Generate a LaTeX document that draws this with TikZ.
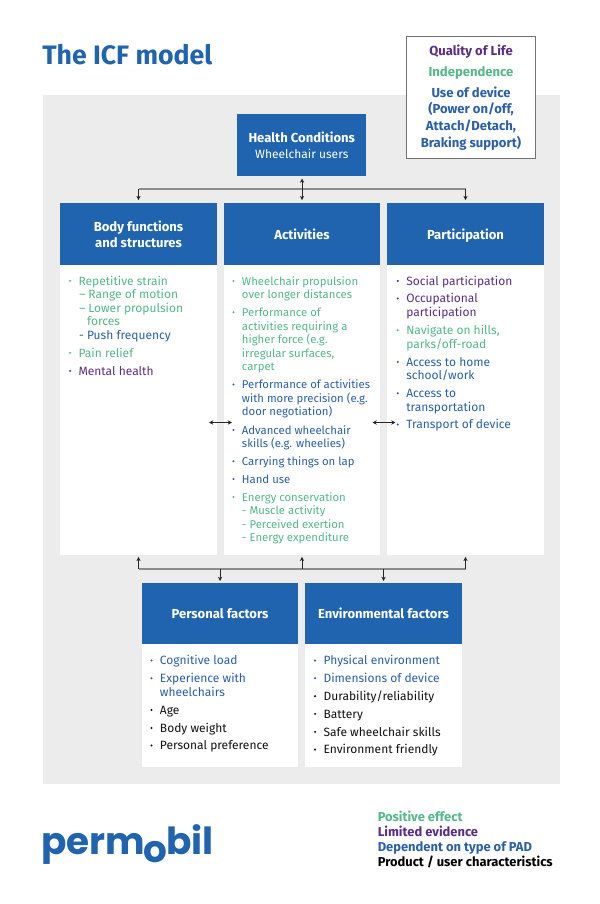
\documentclass[tikz,border=0pt]{standalone}
\usepackage{fontspec}
\setmainfont{Fira Sans}
\newfontfamily\logofont{Poppins}
\usetikzlibrary{arrows.meta}
\definecolor{hdr}{HTML}{2063AF}
\definecolor{panelbg}{HTML}{ECECEC}
\definecolor{cgreen}{HTML}{55B888}
\definecolor{cpurple}{HTML}{5B2D86}
\definecolor{cblue}{HTML}{2B5FA8}
\definecolor{cblack}{HTML}{111111}
\newcommand{\itemfont}{\fontsize{9}{10.2}\selectfont\lineskiplimit=-100pt\relax}
\newcommand{\tightfont}{\fontsize{8.5}{10.2}\selectfont\lineskiplimit=-100pt\relax}
\newcommand{\hdrfont}{\fontsize{9.8}{11.5}\selectfont\bfseries\lineskiplimit=-100pt\relax}
\newcommand{\keyfont}{\fontsize{9.8}{12.6}\selectfont\bfseries\lineskiplimit=-100pt\relax}
\tikzset{
  header/.style={fill=hdr,text=white,font=\hdrfont,align=center,inner sep=0pt,anchor=north west},
  panelbox/.style={fill=white,inner sep=0pt,anchor=north west},
  itemtext/.style={font=\itemfont,align=left,inner sep=0pt,anchor=north west},
  legendtext/.style={font=\fontsize{9.7}{11}\selectfont\bfseries,inner sep=0pt,anchor=west,text height=7pt,text depth=2pt},
  keytext/.style={font=\keyfont,inner sep=0pt,align=center},
  logotext/.style={font=\logofont\bfseries\fontsize{28}{28}\selectfont,text=hdr,inner sep=0pt,anchor=base west},
  bar/.style={draw=black!45,line width=0.9pt},
  arrow/.style={draw=black!85,line width=0.5pt,-{Stealth[length=3.2pt,width=3.2pt]}},
  biarrow/.style={draw=black!85,line width=0.5pt,{Stealth[length=3.2pt,width=3.2pt]}-{Stealth[length=3.2pt,width=3.2pt]}}
}
% \itm{name}{colour}{text x}{first line centre y}{text}
\newcommand{\itm}[5]{%
  \fill[#2] (#3-8.2,#4+0.2) circle (1.15);
  \node[itemtext,text=#2] (#1) at (#3,#4+4.2-9.5) {\strut #5};}
\newcommand{\itmt}[5]{%
  \fill[#2] (#3-8.2,#4+0.2) circle (1.15);
  \node[itemtext,font=\tightfont,text=#2] (#1) at (#3,#4+4.2-9.5) {\strut #5};}
\newcommand{\sub}[5]{%
  \node[itemtext,text=#2] (#1) at (#3,#4+4.2-9.5) {\strut #5};}
\begin{document}
\begin{tikzpicture}[x=0.75pt,y=-0.75pt]
\useasboundingbox (0,0) rectangle (600,904);
\fill[white] (0,0) rectangle (600,904);
\fill[panelbg] (43,95) rectangle (560,784);

\node[anchor=west,inner sep=0pt,text=hdr,font=\fontsize{20}{22}\selectfont\bfseries] (title) at (42,55) {The ICF model};

% key box
\node[draw=black!55,fill=white,line width=0.6pt,minimum width=129*0.75pt,minimum height=122*0.75pt,inner sep=0pt,anchor=north west] (key) at (406.2,35.5) {};
\node[keytext,text=cpurple] (k1) at (471,51.5) {Quality of Life};
\node[keytext,text=cgreen] (k2) at (471,72.5) {Independence};
\node[keytext,text=cblue] (k3) at (471,118.5) {Use of device\\(Power on/off,\\Attach/Detach,\\Braking support)};

% headers
\node[header,minimum width=129*0.75pt,minimum height=62*0.75pt] (health) at (237,114) {Health Conditions\\\fontsize{9}{11.5}\selectfont\mdseries Wheelchair users};
\node[panelbox,minimum width=156.5*0.75pt,minimum height=290*0.75pt] (bfbody) at (60,265) {};
\node[panelbox,minimum width=156.5*0.75pt,minimum height=290*0.75pt] (acbody) at (223.5,265) {};
\node[panelbox,minimum width=156.5*0.75pt,minimum height=290*0.75pt] (pabody) at (387,265) {};
\node[header,minimum width=156.5*0.75pt,minimum height=62*0.75pt] (bf) at (60,203) {Body functions\\and structures};
\node[header,minimum width=156.5*0.75pt,minimum height=62*0.75pt] (ac) at (223.5,203) {Activities};
\node[header,minimum width=156.5*0.75pt,minimum height=62*0.75pt,text depth=0pt] (pa) at (387,203) {Participation};
\node[panelbox,minimum width=156.5*0.75pt,minimum height=123*0.75pt] (pfbody) at (141.5,644) {};
\node[panelbox,minimum width=156.5*0.75pt,minimum height=123*0.75pt] (efbody) at (305,644) {};
\node[header,minimum width=156.5*0.75pt,minimum height=61*0.75pt] (pf) at (141.5,583) {Personal factors};
\node[header,minimum width=156.5*0.75pt,minimum height=61*0.75pt] (ef) at (305,583) {Environmental factors};

% top connectors
\coordinate (topbar) at (301.7,189);
\draw[bar] (bf.north |- topbar) -- (pa.north |- topbar);
\draw[arrow,shorten >=2.2pt] (bf.north |- topbar) -- (bf.north);
\draw[arrow,shorten >=2.2pt] (pa.north |- topbar) -- (pa.north);
\draw[biarrow,shorten >=2.2pt,shorten <=1.5pt] (health.south -| ac.north) -- (ac.north);

% bottom connectors
\coordinate (botbar) at (301.7,569);
\draw[bar] (bfbody.south |- botbar) -- (pabody.south |- botbar);
\draw[arrow,shorten >=1pt] (bfbody.south |- botbar) -- (bfbody.south);
\draw[arrow,shorten >=1pt] (acbody.south |- botbar) -- (acbody.south);
\draw[arrow,shorten >=1pt] (pabody.south |- botbar) -- (pabody.south);
\draw[arrow,shorten >=1.5pt] (pf.north |- botbar) -- (pf.north);
\draw[arrow,shorten >=1.5pt] (ef.north |- botbar) -- (ef.north);

% side connectors
\coordinate (sa) at (209,422.5);
\coordinate (sb) at (232,422.5);
\coordinate (sc) at (372.5,422.5);
\coordinate (sd) at (395.5,422.5);
\draw[biarrow] (sa) -- (sb);
\draw[biarrow] (sc) -- (sd);

% body functions
\itm{b1}{cgreen}{78.3}{280.7}{Repetitive strain}
\sub{b2}{cgreen}{79}{294.3}{–\hspace{2.2pt}Range of motion}
\sub{b3}{cgreen}{79}{307.7}{–\hspace{2.2pt}Lower propulsion\\\hspace{5.9pt}forces}
\sub{b4}{cblue}{78.8}{335}{- Push frequency}
\itm{b5}{cgreen}{78.3}{352.7}{Pain relief}
\itm{b6}{cpurple}{78.3}{370.7}{Mental health}

% activities
\itmt{a1}{cgreen}{241.7}{280.7}{Wheelchair propulsion\\over longer distances}
\itmt{a2}{cgreen}{241.7}{312}{Performance of\\activities requiring a\\higher force (e.g.\\irregular surfaces,\\carpet}
\itmt{a3}{cblue}{241.7}{384.3}{Performance of activities\\with more precision (e.g.\\door negotiation)}
\itmt{a4}{cblue}{241.7}{429.7}{Advanced wheelchair\\skills (e.g. wheelies)}
\itmt{a5}{cblue}{241.7}{461}{Carrying things on lap}
\itmt{a6}{cblue}{241.7}{478.7}{Hand use}
\itmt{a7}{cgreen}{241.7}{496.7}{Energy conservation\\- Muscle activity\\- Perceived exertion\\- Energy expenditure}

% participation
\itm{p1}{cpurple}{406}{280.7}{Social participation}
\itm{p2}{cpurple}{406}{298.3}{Occupational\\participation}
\itm{p3}{cgreen}{406}{330}{Navigate on hills,\\parks/off-road}
\itm{p4}{cblue}{406}{361.7}{Access to home\\school/work}
\itm{p5}{cblue}{406}{393}{Access to\\transportation}
\itm{p6}{cblue}{406}{424.3}{Transport of device}

% personal factors
\itm{f1}{cblue}{159.7}{660.3}{Cognitive load}
\itm{f2}{cblue}{159.7}{678}{Experience with\\wheelchairs}
\itm{f3}{cblack}{159.7}{709.7}{Age}
\itm{f4}{cblack}{159.7}{727.7}{Body weight}
\itm{f5}{cblack}{159.7}{745.3}{Personal preference}

% environmental factors
\itm{e1}{cblue}{323.3}{660.3}{Physical environment}
\itm{e2}{cblue}{323.3}{678}{Dimensions of device}
\itm{e3}{cblack}{323.3}{696}{Durability/reliability}
\itm{e4}{cblack}{323.3}{713.7}{Battery}
\itm{e5}{cblack}{323.3}{731.7}{Safe wheelchair skills}
\itm{e6}{cblack}{323.3}{749.3}{Environment friendly}

% logo
\node[logotext] (l1) at (41,854) {perm};
\node[logotext] (l2) at (143,862) {o};
\node[logotext] (l3) at (166,854) {bil};

% legend
\node[legendtext,text=cgreen] (g1) at (377.5,818.3) {Positive effect};
\node[legendtext,text=cpurple] (g2) at (377.5,833.3) {Limited evidence};
\node[legendtext,text=cblue] (g3) at (377.5,848.3) {Dependent on type of PAD};
\node[legendtext,text=black] (g4) at (377.5,863.3) {Product / user characteristics};
\end{tikzpicture}
\end{document}
